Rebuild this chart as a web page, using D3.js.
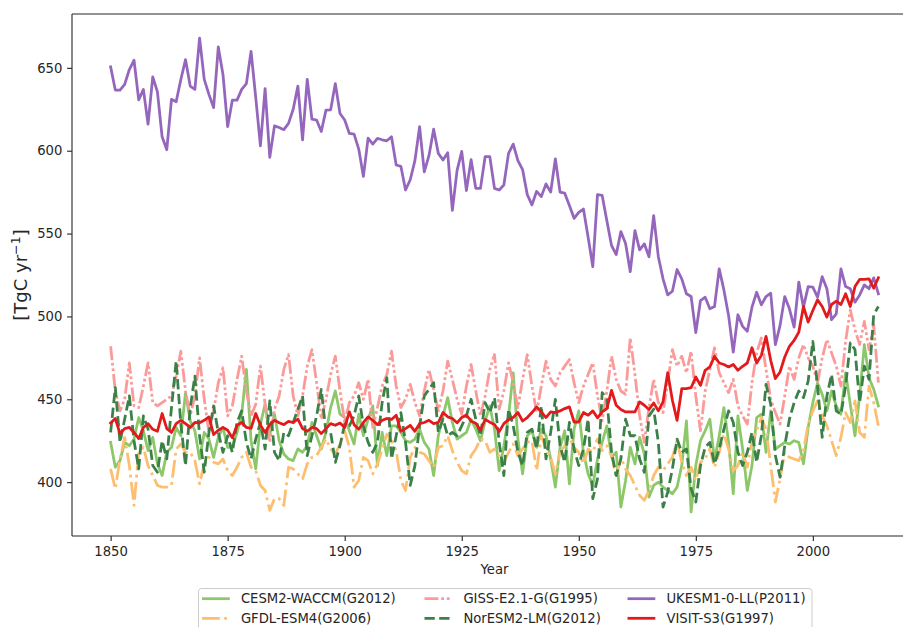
<!DOCTYPE html>
<html><head><meta charset="utf-8">
<script src="https://cdn.jsdelivr.net/npm/d3@7"></script>
<style>html,body{margin:0;padding:0;background:#fff;overflow:hidden}</style>
</head><body><div id="chart"></div>
<script>
// ---------------- data ----------------
const startYear = 1850;
const endYear = 2014;
const seriesNames = ["CESM2-WACCM(G2012)", "GFDL-ESM4(G2006)", "GISS-E2.1-G(G1995)",
                     "NorESM2-LM(G2012)", "UKESM1-0-LL(P2011)", "VISIT-S3(G1997)"];
const xTickValues = [1850, 1875, 1900, 1925, 1950, 1975, 2000];
const yTickValues = [400, 450, 500, 550, 600, 650];

const cesm = [
424,409,413,424,422,426,439,431,419,427, 411,404,418,421,433,428,454,437,431,414,
430,426,415,427,433,421,421,430,441,468, 425,408,435,447,429,441,425,417,414,413,
420,418,422,436,428,420,430,445,455,441, 439,431,423,441,428,438,446,410,430,416,
434,434,430,425,424,426,432,424,420,404, 428,440,451,436,426,428,430,438,432,425,
437,446,432,407,422,440,466,426,405,428, 431,421,432,428,414,397,421,431,399,432,
443,418,405,398,414,424,434,415,418,385, 401,421,411,427,417,391,398,400,397,395,
393,397,410,437,382,410,425,431,438,413, 428,445,424,393,440,420,395,410,439,441,
418,443,420,422,424,423,425,424,411,433, 448,460,453,443,455,446,441,466,447,428,
452,483,463,456,446];

const gfdl = [
408,396,414,427,410,386,418,421,410,404, 398,397,397,398,420,423,418,418,413,399,
411,415,412,411,414,407,404,409,415,418, 409,407,398,395,383,390,390,386,409,408,
405,402,411,415,416,421,426,420,417,423, 431,421,397,401,415,413,405,411,420,429,
425,419,401,395,415,421,418,417,413,409, 421,422,428,419,412,407,405,416,420,426,
425,418,420,416,412,418,423,416,420,424, 425,407,428,420,415,405,418,422,427,421,
418,411,420,418,426,419,422,416,403,415, 408,404,398,392,389,395,404,409,407,411,
415,425,412,404,409,401,412,414,420,409, 418,429,420,407,410,418,409,425,431,439,
432,410,388,402,418,415,414,413,419,435, 443,449,440,434,425,416,427,442,436,449,
430,427,458,448,434];

const giss = [
482,455,443,450,472,446,445,458,472,448, 446,448,450,452,464,479,455,440,452,475,
450,430,443,460,469,440,446,462,476,455, 440,447,470,447,424,444,452,468,477,452,
440,452,470,480,460,438,450,465,476,455, 436,448,452,460,450,462,433,445,458,465,
479,458,445,450,459,448,440,455,468,456, 443,455,473,462,450,441,458,471,455,440,
452,468,477,444,455,472,460,445,462,477, 458,442,458,473,462,458,466,470,474,460,
448,458,465,472,452,437,455,476,462,455, 453,487,465,440,424,445,462,448,442,460,
480,470,476,466,479,452,431,455,468,481, 466,460,454,462,446,440,435,460,478,487,
468,450,442,435,452,470,462,475,483,475, 470,460,475,486,478,470,458,485,504,492,
483,497,480,495,460];

const noresm = [
430,457,424,438,452,425,408,440,432,410, 406,425,414,445,473,435,410,445,464,428,
406,430,446,430,418,428,418,436,443,424, 414,426,436,420,449,418,413,430,428,436,
444,452,416,428,440,456,430,430,412,422, 435,434,440,452,434,424,418,424,448,463,
414,428,442,424,398,410,434,452,456,460, 430,438,428,430,428,434,440,450,438,428,
448,442,451,424,404,444,434,418,410,430, 432,420,446,414,430,450,422,412,436,420,
410,420,438,390,402,454,450,418,404,414, 438,428,428,414,406,440,444,424,385,394,
408,426,418,420,396,388,410,421,424,411, 420,432,443,436,418,410,418,430,412,428,
459,447,416,403,422,438,448,455,451,461, 485,458,427,452,465,443,441,458,484,480,
448,470,462,501,506];

const ukesm = [
650.6,636.6,636.6,640,649,654.6,630.7,637,616,644.6, 635.5,608.4,600.6,631,629.5,643,655,639,637,668,
643,634,626,662.6,646,614.6,630.5,630.5,637,640.5, 660,632,603,637.5,596,615,614,612.7,616.5,625,
639,606.6,643,619,618.5,611.6,624.5,624.7,640.5,622.5, 618.5,610.4,610,601,584.5,607.6,604,607.4,606.6,606,
608.4,591.4,590.6,576.3,582.5,594,614.5,587.3,597,613, 598.4,594.4,598.8,564,588,599.6,576,594.6,577.3,577.3,
596.4,596.4,577.3,576.3,579.3,598.4,604,594,588.6,573.5, 567.3,575.5,572.3,580,575,595,575,574.4,567,559.2,
562.8,564.8,547.8,530,573.5,573,557.8,542.8,537.3,551.2, 544,527,551.8,540.2,543.8,536,560.8,536,522.7,513,
515.2,528.3,522.7,513.7,512,490.2,509.6,511.6,504.6,506, 528.7,516,500.6,478.5,501,494,491,505.6,514.6,507,
512,514,483,494.6,512,504.6,493.6,520.7,505.6,518, 517.7,511.6,524,516.7,498,501.6,528.7,518,516.7,508.6,
513,519,516.7,523.3,513.7];

const visit = [
435.7,438.4,429.3,432.3,433,430,426.3,433,435.3,431.9, 430.7,441.4,432.3,430,435.3,437.3,435.3,433,436,435.8,
437.3,439.4,428.7,431.3,433,431.3,426.7,434.3,436,433, 432.5,441.4,434.3,430,434.7,437.3,435.8,434.7,436.7,436,
438,432.3,430.7,433,432.3,429.3,432.3,435.3,434.3,435.7, 433,442.4,434.7,431.9,436,439.4,437.3,434.7,437.3,438.4,
437.8,440.4,430.7,432.3,434.3,430.7,435.3,436,437.3,435.3, 436,442,439.4,438.4,435.8,439,440.5,436.8,435.5,431.3,
437.8,436.2,434.8,430.5,435.3,437.7,439,442,436.9,439, 442,445.4,442.4,439,442.4,442,443,444.4,445.4,436.3,
436.3,442,440.4,443,438.8,442.4,444.4,455.4,446.4,443.8, 442.4,442.4,442.4,448.4,446.4,443.8,447.8,443,448.4,466,
449.4,437.3,456.4,456.4,457,463.5,458.4,467.5,469.5,476, 471.9,471,469.5,471,467.5,469.9,471.9,481.1,471.9,476.5,
488,473.5,462.5,466.5,475.5,482,485.5,490.5,506,496.6, 503.6,510,506,499.6,507.2,509.2,507.2,513.7,506,518,
522.3,522.3,522.7,517,523.3];

const years = d3.range(startYear, endYear + 1);
const seriesValues = [cesm, gfdl, giss, noresm, ukesm, visit];

// ---------------- styles ----------------
const colors = ["#8cc76a", "#fdbf6f", "#fb9a99", "#3b8048", "#9467bd", "#e31a1c"];
const dashes = [null, "17.8,4.4,2.8,4.4", "13.9,2.8,2.8,2.8,2.8,2.8", "10.3,4.4", null, null];
const FONT = "DejaVu Sans, sans-serif";
const W = 903, H = 627;

const svg = d3.select("#chart").append("svg")
  .attr("width", W).attr("height", H)
  .style("font-family", FONT);

const x = d3.scaleLinear().domain([1841.75, 2022.25]).range([72, 917]);
const y = d3.scaleLinear().domain([367.5, 682.5]).range([536, 14]);

svg.append("defs").append("clipPath").attr("id", "plotclip")
  .append("rect").attr("x", 72).attr("y", 14).attr("width", 845).attr("height", 522);

// lines
const line = d3.line().x((d, i) => x(years[i])).y(d => y(d));
const g = svg.append("g").attr("clip-path", "url(#plotclip)");
seriesValues.forEach((vals, k) => {
  g.append("path")
    .datum(vals)
    .attr("d", line)
    .attr("fill", "none")
    .attr("stroke", colors[k])
    .attr("stroke-width", 2.78)
    .attr("stroke-linejoin", "round")
    .attr("stroke-linecap", dashes[k] ? "butt" : "square")
    .attr("stroke-dasharray", dashes[k]);
});

// axes
const xAxis = svg.append("g").attr("transform", "translate(0,536)")
  .call(d3.axisBottom(x).tickValues(xTickValues).tickFormat(d3.format("d")).tickSize(4.9).tickPadding(5.5));
const yAxis = svg.append("g").attr("transform", "translate(72,0)")
  .call(d3.axisLeft(y).tickValues(yTickValues).tickFormat(d3.format("d")).tickSize(4.9).tickPadding(4.8));
[xAxis, yAxis].forEach(a => {
  a.select(".domain").remove();
  a.selectAll(".tick line").attr("stroke", "#222").attr("stroke-width", 1.1);
  a.selectAll(".tick text").attr("fill", "#262626").style("font-size", "13.2px").style("font-family", FONT);
});

// spines
const spine = svg.append("g").attr("stroke", "#262626").attr("stroke-width", 1.1).attr("fill", "none");
spine.append("line").attr("x1", 72).attr("x2", 917).attr("y1", 536).attr("y2", 536);
spine.append("line").attr("x1", 72).attr("x2", 917).attr("y1", 14).attr("y2", 14);
spine.append("line").attr("x1", 72).attr("x2", 72).attr("y1", 14).attr("y2", 536);
spine.append("line").attr("x1", 917).attr("x2", 917).attr("y1", 14).attr("y2", 536);

// axis labels
svg.append("text").attr("x", 494.5).attr("y", 574).attr("text-anchor", "middle")
  .attr("fill", "#262626").style("font-size", "13.2px").text("Year");

const yl = svg.append("text").attr("transform", "translate(26.5,275) rotate(-90)")
  .attr("text-anchor", "middle").attr("fill", "#262626").style("font-size", "18px");
yl.append("tspan").text("[TgC yr");
yl.append("tspan").attr("dy", -7).style("font-size", "12.6px").text("\u22121");
yl.append("tspan").attr("dy", 7).text("]");

// legend
const leg = svg.append("g");
leg.append("rect").attr("x", 198.5).attr("y", 588.5).attr("width", 613.5).attr("height", 46)
  .attr("rx", 3).attr("fill", "#fff").attr("fill-opacity", 0.8).attr("stroke", "#cccccc").attr("stroke-width", 1);
const colX = [202, 424.5, 627.5];
const rowY = [598.7, 618.3];
seriesNames.forEach((name, k) => {
  const cx = colX[Math.floor(k / 2)], cy = rowY[k % 2];
  leg.append("line").attr("x1", cx).attr("x2", cx + 27.8).attr("y1", cy).attr("y2", cy)
    .attr("stroke", colors[k]).attr("stroke-width", 2.78)
    .attr("stroke-dasharray", dashes[k]);
  leg.append("text").attr("x", cx + 38.9).attr("y", cy).attr("dy", "0.36em")
    .attr("fill", "#262626").style("font-size", "13.2px").text(name);
});
</script>
</body></html>
